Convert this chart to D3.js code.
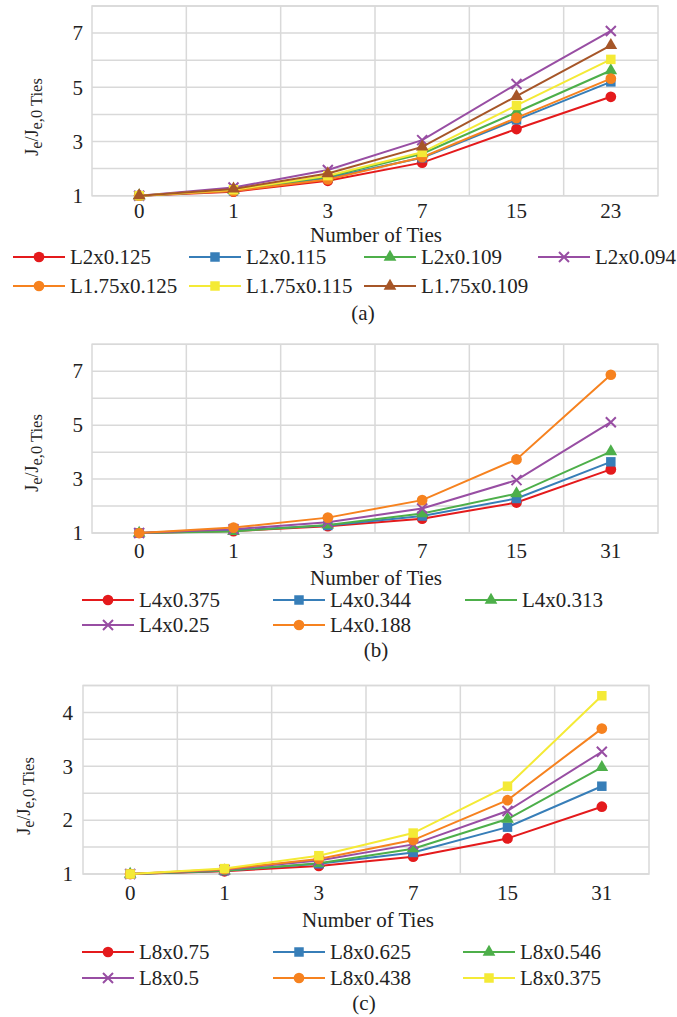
<!DOCTYPE html>
<html><head><meta charset="utf-8">
<script src="https://cdn.jsdelivr.net/npm/d3@7"></script>
<style>
body{margin:0;background:#fff}
</style>
</head><body>
<svg id="chart" width="677" height="1017" font-family="'Liberation Serif', 'DejaVu Serif', 'Times New Roman', serif"></svg>
<script>
// ---------------- data ----------------
const tiesA = ["0","1","3","7","15","23"];
const tiesBC = ["0","1","3","7","15","31"];

const namesA = ["L2x0.125","L2x0.115","L2x0.109","L2x0.094","L1.75x0.125","L1.75x0.115","L1.75x0.109"];
const valuesA = [
  [1,1.15,1.55,2.22,3.46,4.65],
  [1,1.18,1.66,2.40,3.80,5.20],
  [1,1.20,1.70,2.55,4.08,5.62],
  [1,1.30,1.95,3.05,5.12,7.08],
  [1,1.17,1.60,2.42,3.87,5.32],
  [1,1.22,1.74,2.60,4.33,6.03],
  [1,1.25,1.82,2.80,4.67,6.55]
];

const namesB = ["L4x0.375","L4x0.344","L4x0.313","L4x0.25","L4x0.188"];
const valuesB = [
  [1,1.07,1.25,1.53,2.13,3.36],
  [1,1.10,1.28,1.63,2.28,3.64],
  [1,1.06,1.30,1.72,2.46,4.02],
  [1,1.14,1.40,1.91,2.96,5.11],
  [1,1.20,1.57,2.22,3.73,6.87]
];

const namesC = ["L8x0.75","L8x0.625","L8x0.546","L8x0.5","L8x0.438","L8x0.375"];
const valuesC = [
  [1,1.05,1.15,1.32,1.66,2.25],
  [1,1.06,1.19,1.40,1.87,2.63],
  [1,1.06,1.20,1.47,2.02,2.98],
  [1,1.08,1.25,1.55,2.17,3.27],
  [1,1.09,1.28,1.63,2.37,3.70],
  [1,1.10,1.34,1.76,2.63,4.31]
];

const yTicksAB = [1,3,5,7];
const yTicksC = [1,2,3,4];

const colorsA = ["#e41a1c","#377eb8","#4daf4a","#984ea3","#f6821f","#f4ea36","#a65628"];
const markersA = ["circle","square","triangle","x","circle","square","triangle"];
const colorsB = ["#e41a1c","#377eb8","#4daf4a","#984ea3","#f6821f"];
const markersB = ["circle","square","triangle","x","circle"];
const colorsC = ["#e41a1c","#377eb8","#4daf4a","#984ea3","#f6821f","#f4ea36"];
const markersC = ["circle","square","triangle","x","circle","square"];

// ---------------- drawing ----------------
const FONT = "'Liberation Serif', 'DejaVu Serif', 'Times New Roman', serif";
const svg = d3.select("#chart");
const GRID = "#d9d9d9";
const FS = 21;

function drawMarker(sel, type, color) {
  if (type === "x") {
    sel.append("path").attr("d","M-5,-5L5,5M-5,5L5,-5")
      .attr("stroke", color).attr("stroke-width", 2).attr("fill","none");
  } else {
    const t = type === "circle" ? d3.symbolCircle : type === "square" ? d3.symbolSquare : d3.symbolTriangle;
    const s = type === "circle" ? 90 : type === "square" ? 90 : 70;
    sel.append("path").attr("d", d3.symbol().type(t).size(s)()).attr("fill", color);
  }
}

function panel(cfg) {
  const g = svg.append("g");
  const x = d3.scaleBand().domain(cfg.cats).range([cfg.left, cfg.right]);
  const y = d3.scaleLinear().domain(cfg.yDomain).range([cfg.bottom, cfg.top]);
  const cx = c => x(c) + x.bandwidth() / 2;

  // horizontal gridlines
  const gridVals = d3.range(cfg.yDomain[0], cfg.yDomain[1] + 1e-9, cfg.gridStep);
  g.append("g").selectAll("line").data(gridVals).join("line")
    .attr("x1", cfg.left).attr("x2", cfg.right)
    .attr("y1", d => y(d)).attr("y2", d => y(d))
    .attr("stroke", GRID).attr("stroke-width", 1.5);
  // vertical gridlines at category boundaries
  g.append("g").selectAll("line").data(cfg.cats.slice(1)).join("line")
    .attr("x1", d => x(d)).attr("x2", d => x(d))
    .attr("y1", cfg.top).attr("y2", cfg.bottom)
    .attr("stroke", GRID).attr("stroke-width", 1.5);
  g.append("rect").attr("x", cfg.left).attr("y", cfg.top)
    .attr("width", cfg.right - cfg.left).attr("height", cfg.bottom - cfg.top)
    .attr("fill", "none").attr("stroke", GRID).attr("stroke-width", 1.5);

  // axes
  const ya = g.append("g").attr("transform", `translate(${cfg.left},0)`)
    .call(d3.axisLeft(y).tickValues(cfg.yTicks).tickSize(0).tickPadding(cfg.yPad).tickFormat(d3.format("d")));
  ya.select(".domain").remove();
  ya.attr("font-family", FONT).attr("font-size", FS);
  ya.selectAll("text").attr("font-size", FS).attr("font-family", FONT).attr("fill", "#222");

  const xa = g.append("g").attr("transform", `translate(0,${cfg.bottom})`)
    .call(d3.axisBottom(x).tickSize(0).tickPadding(cfg.xPad));
  xa.select(".domain").remove();
  xa.attr("font-family", FONT).attr("font-size", FS);
  xa.selectAll("text").attr("font-size", FS).attr("font-family", FONT).attr("fill", "#222");

  // y title
  const yt = g.append("text")
    .attr("transform", `translate(${cfg.yTitleX},${cfg.yTitleY}) rotate(-90)`)
    .attr("text-anchor", "middle").attr("font-size", 18).attr("font-family", FONT).attr("fill", "#222");
  yt.append("tspan").text("J");
  yt.append("tspan").attr("font-size", 16.5).attr("dy", 4).text("e");
  yt.append("tspan").attr("dy", -4).text("/J");
  yt.append("tspan").attr("font-size", 16.5).attr("dy", 4).text("e,0 Ties");

  // x title
  g.append("text").attr("x", cfg.xTitleX).attr("y", cfg.xTitleY).attr("dy", "0.35em")
    .attr("text-anchor", "middle").attr("font-size", FS).attr("font-family", FONT).attr("fill", "#222")
    .text("Number of Ties");

  // series
  const line = d3.line().x((d, i) => cx(cfg.cats[i])).y(d => y(d));
  cfg.values.forEach((vals, si) => {
    const sg = g.append("g");
    sg.append("path").attr("d", line(vals)).attr("fill", "none")
      .attr("stroke", cfg.colors[si]).attr("stroke-width", 2);
    vals.forEach((v, i) => {
      const m = sg.append("g").attr("transform", `translate(${cx(cfg.cats[i])},${y(v)})`);
      drawMarker(m, cfg.markers[si], cfg.colors[si]);
    });
  });

  // legend
  cfg.names.forEach((name, i) => {
    const col = i % cfg.legendCols.length;
    const row = Math.floor(i / cfg.legendCols.length);
    const lx = cfg.legendCols[col];
    const ly = cfg.legendRows[row];
    const lg = g.append("g").attr("transform", `translate(${lx},${ly})`);
    lg.append("line").attr("x1", 0).attr("x2", 52).attr("y1", 0).attr("y2", 0)
      .attr("stroke", cfg.colors[i]).attr("stroke-width", 2);
    const m = lg.append("g").attr("transform", "translate(26,0)");
    drawMarker(m, cfg.markers[i], cfg.colors[i]);
    lg.append("text").attr("x", 57).attr("dy", "0.35em").attr("font-size", FS)
      .attr("font-family", FONT).attr("fill", "#222").text(name);
  });

  // caption
  g.append("text").attr("x", cfg.capX).attr("y", cfg.capY).attr("dy", "0.35em")
    .attr("text-anchor", "middle").attr("font-size", FS).attr("font-family", FONT).attr("fill", "#222")
    .text(cfg.caption);
}

panel({
  cats: tiesA, names: namesA, values: valuesA, colors: colorsA, markers: markersA,
  left: 92, right: 658, top: 6, bottom: 195.7, yDomain: [1, 8], gridStep: 1, yTicks: yTicksAB,
  yPad: 9, xPad: 7, yTitleX: 38, yTitleY: 117, xTitleX: 376, xTitleY: 235,
  legendCols: [13, 189, 364, 538], legendRows: [257, 286], capX: 363, capY: 313, caption: "(a)"
});

panel({
  cats: tiesBC, names: namesB, values: valuesB, colors: colorsB, markers: markersB,
  left: 92, right: 658, top: 344.3, bottom: 533, yDomain: [1, 8], gridStep: 1, yTicks: yTicksAB,
  yPad: 9, xPad: 10, yTitleX: 38, yTitleY: 453, xTitleX: 376, xTitleY: 578,
  legendCols: [82, 273, 465], legendRows: [600, 625], capX: 376, capY: 650, caption: "(b)"
});

panel({
  cats: tiesBC, names: namesC, values: valuesC, colors: colorsC, markers: markersC,
  left: 83, right: 649, top: 685.5, bottom: 874, yDomain: [1, 4.5], gridStep: 0.5, yTicks: yTicksC,
  yPad: 10, xPad: 11, yTitleX: 30, yTitleY: 796, xTitleX: 368, xTitleY: 920,
  legendCols: [82, 273, 463], legendRows: [952, 978], capX: 364, capY: 1003, caption: "(c)"
});
</script>
</body></html>
